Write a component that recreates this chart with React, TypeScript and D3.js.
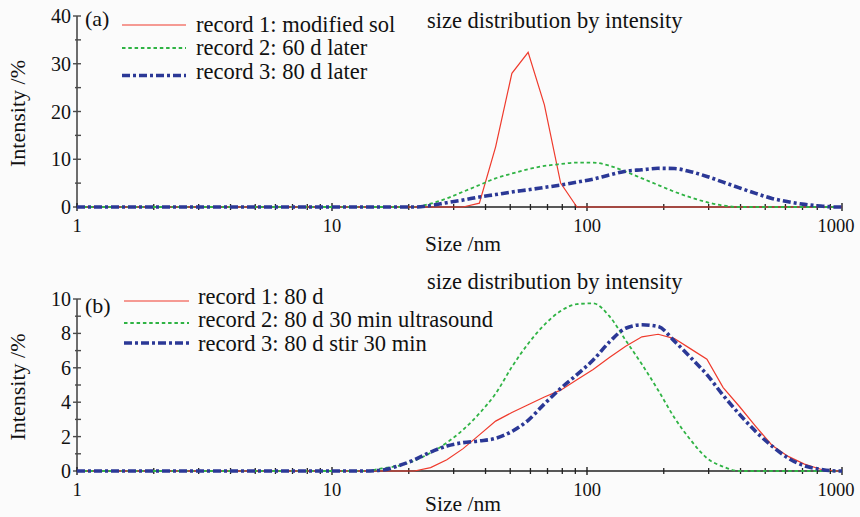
import React from "react";
import * as d3 from "d3";

const sizes = [1, 1.117, 1.294, 1.499, 1.736, 2.01, 2.328, 2.696, 3.122, 3.615, 4.187, 4.849, 5.615, 6.503, 7.531, 8.721, 10.1, 11.7, 13.54, 15.69, 18.17, 21.04, 24.36, 28.21, 32.67, 37.84, 43.82, 50.75, 58.77, 68.06, 78.82, 91.28, 105.7, 122.4, 141.8, 164.2, 190.1, 220.2, 255.0, 295.3, 342.0, 396.1, 458.7, 531.2, 615.1, 712.4, 825.0, 955.4, 1000];

const Z18 = [0, 0, 0, 0, 0, 0, 0, 0, 0, 0, 0, 0, 0, 0, 0, 0, 0, 0];

// panel (a)
const a1 = [...Z18, 0, 0, 0, 0, 0, 0, 0, 0.8, 12.6, 28, 32.4, 21.4, 5, 0, 0, 0, 0, 0, 0, 0, 0, 0, 0, 0, 0, 0, 0, 0, 0, 0, 0];
const a2 = [...Z18, 0, 0, 0, 0, 0.7, 1.8, 3.2, 4.6, 6.0, 7.0, 7.9, 8.6, 9.0, 9.3, 9.3, 8.65, 7.4, 6.0, 4.6, 3.2, 2.0, 1.0, 0.3, 0, 0, 0, 0, 0, 0, 0, 0];
const a3 = [...Z18, 0, 0, 0, 0, 0.3, 0.9, 1.45, 2.1, 2.6, 3.15, 3.6, 4.1, 4.6, 5.2, 5.85, 6.7, 7.5, 7.8, 8.1, 8.05, 7.4, 6.4, 5.2, 4.0, 2.85, 1.8, 1.1, 0.55, 0.2, 0, 0];

// panel (b)
const b1 = [...Z18, 0, 0, 0, 0, 0.2, 0.65, 1.3, 2.1, 2.9, 3.4, 3.85, 4.3, 4.7, 5.3, 5.9, 6.6, 7.25, 7.8, 7.95, 7.7, 7.1, 6.5, 4.85, 3.75, 2.6, 1.5, 0.85, 0.4, 0.1, 0, 0];
const b2 = [...Z18, 0, 0.15, 0.3, 0.6, 1.05, 1.65, 2.4, 3.35, 4.5, 6.05, 7.4, 8.5, 9.3, 9.7, 9.75, 9.0, 7.6, 6.2, 4.7, 3.1, 1.8, 0.75, 0.25, 0, 0, 0, 0, 0, 0, 0, 0];
const b3 = [...Z18, 0, 0.05, 0.3, 0.65, 1.1, 1.45, 1.65, 1.75, 1.9, 2.3, 2.95, 3.9, 4.8, 5.6, 6.45, 7.5, 8.3, 8.5, 8.4, 7.55, 6.6, 5.6, 4.4, 3.3, 2.3, 1.45, 0.75, 0.3, 0.1, 0, 0];

const xTickLabels = [1, 10, 100, 1000];
const yTicksA = [0, 10, 20, 30, 40];
const yMinorA = [5, 15, 25, 35];
const yTicksB = [0, 2, 4, 6, 8, 10];
const yMinorB = [1, 3, 5, 7, 9];

const legendA = ["record 1: modified sol", "record 2: 60 d later", "record 3: 80 d later"];
const legendB = ["record 1: 80 d", "record 2: 80 d 30 min ultrasound", "record 3: 80 d stir 30 min"];
const titleText = "size distribution by intensity";
const xLabel = "Size /nm";
const yLabel = "Intensity /%";

const RED = "#ef3a2c";
const GREEN = "#2fb344";
const BLUE = "#2b3896";
const AXIS = "#4a4a4a";
const FONT = "'Liberation Serif', 'Times New Roman', serif";

const styles = [
  { color: RED, width: 1.2, dash: "none", curve: d3.curveLinear },
  { color: GREEN, width: 1.8, dash: "3.5,2.8", curve: d3.curveMonotoneX },
  { color: BLUE, width: 3.6, dash: "8,3,3,3", curve: d3.curveMonotoneX },
];

const x = d3.scaleLog().domain([1, 1000]).range([77, 842]);
const minorX: number[] = [];
[1, 10, 100].forEach((dec) => {
  for (let k = 2; k <= 9; k++) minorX.push(dec * k);
});

type PanelProps = {
  y0: number;
  y1: number;
  ymax: number;
  ticks: number[];
  minor: number[];
  series: number[][];
  legend: string[];
  tag: string;
  legendY: number[];
  textY: number[];
  legendX: [number, number, number];
  titleY: number;
  tagY: number;
  xLabelY: number;
};

function Panel(p: PanelProps) {
  const y = d3.scaleLinear().domain([0, p.ymax]).range([p.y0, p.y1]);
  const lines = p.series.map((s, i) =>
    d3
      .line<number>()
      .x((_, j) => x(sizes[j]))
      .y((v) => y(v))
      .curve(styles[i].curve)(s)
  );
  return (
    <g>
      <line x1={x(1)} x2={x(1)} y1={y(p.ymax)} y2={y(0)} stroke={AXIS} strokeWidth={1.6} />
      <line x1={x(1)} x2={x(1000)} y1={y(0)} y2={y(0)} stroke="#222" strokeWidth={1.4} />
      {p.ticks.map((t) => (
        <g key={"yt" + t}>
          <line x1={x(1) - 4} x2={x(1) + 4} y1={y(t)} y2={y(t)} stroke={AXIS} strokeWidth={1.4} />
          <text x={71} y={y(t) + 7} textAnchor="end" fontFamily={FONT} fontSize={20} fill="#111">
            {t}
          </text>
        </g>
      ))}
      {p.minor.map((t) => (
        <line key={"ym" + t} x1={x(1) - 2} x2={x(1) + 4} y1={y(t)} y2={y(t)} stroke={AXIS} strokeWidth={1.4} />
      ))}
      {xTickLabels.map((t) => (
        <g key={"xt" + t}>
          <line x1={x(t)} x2={x(t)} y1={y(0) - 4} y2={y(0) + 4} stroke="#222" strokeWidth={1.4} />
          <text x={t === 1000 ? x(t) - 6 : x(t)} y={y(0) + 25} textAnchor="middle" fontFamily={FONT} fontSize={18.5} fill="#111">
            {t}
          </text>
        </g>
      ))}
      {minorX.map((t) => (
        <line key={"xm" + t} x1={x(t)} x2={x(t)} y1={y(0) - 3} y2={y(0) + 3} stroke="#222" strokeWidth={1.3} />
      ))}
      {lines.map((d, i) => (
        <path
          key={"s" + i}
          d={d || ""}
          fill="none"
          stroke={styles[i].color}
          strokeWidth={styles[i].width}
          strokeDasharray={styles[i].dash}
        />
      ))}
      <text x={463} y={p.xLabelY} textAnchor="middle" fontFamily={FONT} fontSize={21.5} fill="#111">
        {xLabel}
      </text>
      <text
        transform={`translate(25,${(y(0) + y(p.ymax)) / 2 + 2}) rotate(-90)`}
        textAnchor="middle"
        fontFamily={FONT}
        fontSize={22}
        fill="#111"
      >
        {yLabel}
      </text>
      <text x={427} y={p.titleY} fontFamily={FONT} fontSize={22.5} fill="#111">
        {titleText}
      </text>
      <text x={85} y={p.tagY} fontFamily={FONT} fontSize={22} fill="#111">
        {p.tag}
      </text>
      {p.legend.map((l, i) => (
        <g key={"lg" + i}>
          <line
            x1={p.legendX[0]}
            x2={p.legendX[1]}
            y1={p.legendY[i]}
            y2={p.legendY[i]}
            stroke={styles[i].color}
            strokeWidth={styles[i].width}
            strokeDasharray={styles[i].dash}
          />
          <text x={p.legendX[2]} y={p.textY[i]} fontFamily={FONT} fontSize={22.5} fill="#111">
            {l}
          </text>
        </g>
      ))}
    </g>
  );
}

export default function App() {
  return (
    <svg
      width={860}
      height={517}
      style={{ position: "absolute", left: 0, top: 0, background: "#fbfbfb" }}
    >
      <Panel
        y0={207}
        y1={16}
        ymax={40}
        ticks={yTicksA}
        minor={yMinorA}
        series={[a1, a2, a3]}
        legend={legendA}
        tag="(a)"
        legendY={[25, 48, 75.5]}
        textY={[32, 55, 79]}
        legendX={[122, 186, 196]}
        titleY={28}
        tagY={26}
        xLabelY={251}
      />
      <Panel
        y0={471}
        y1={299}
        ymax={10}
        ticks={yTicksB}
        minor={yMinorB}
        series={[b1, b2, b3]}
        legend={legendB}
        tag="(b)"
        legendY={[301, 323, 343]}
        textY={[304, 327, 350.5]}
        legendX={[124, 189, 198]}
        titleY={289}
        tagY={313}
        xLabelY={511}
      />
    </svg>
  );
}
